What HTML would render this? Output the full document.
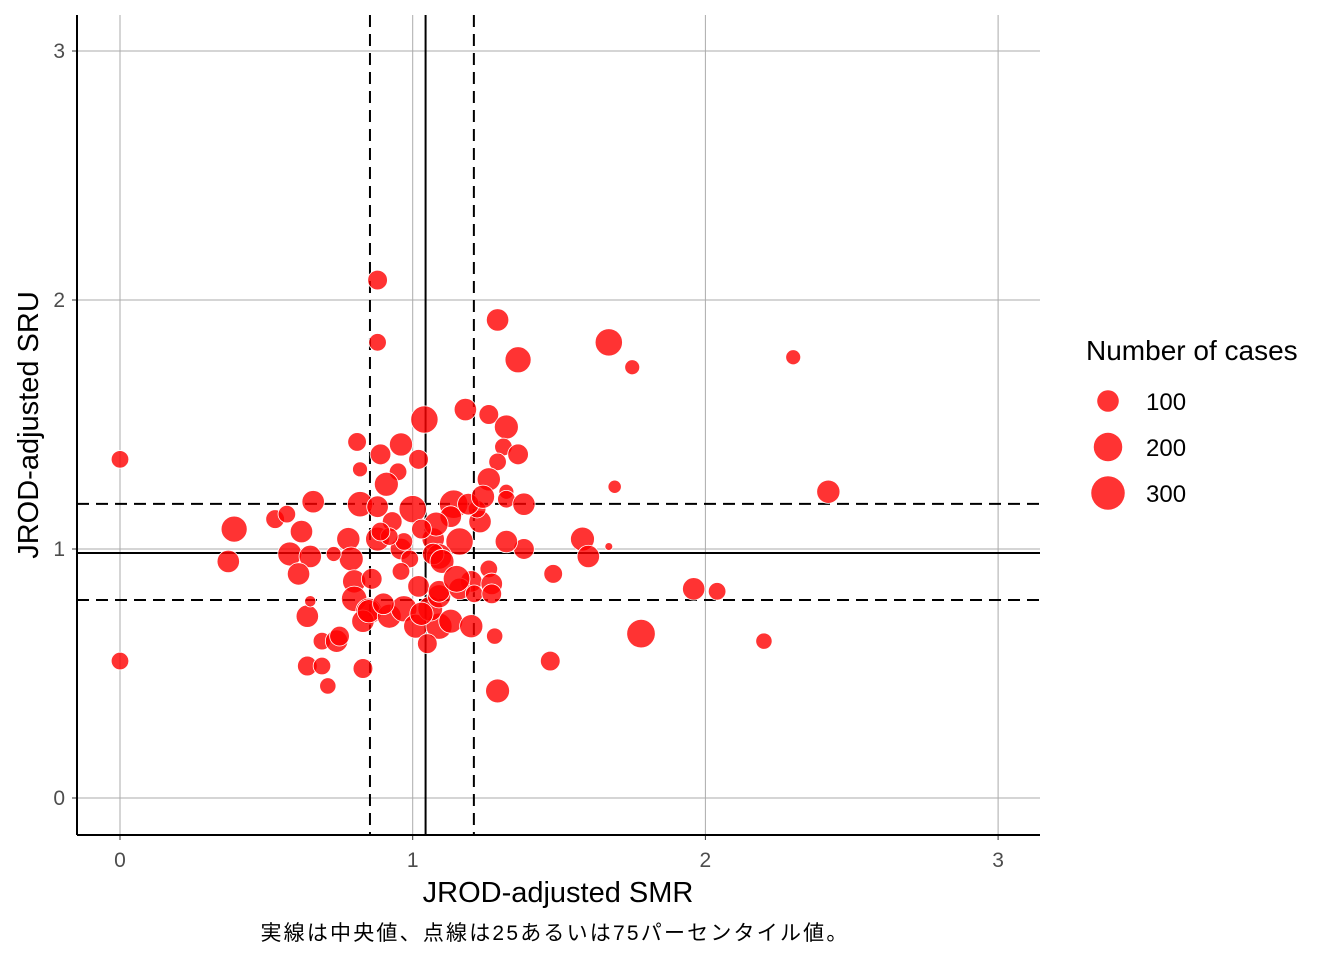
<!DOCTYPE html>
<html><head><meta charset="utf-8"><style>
body{margin:0;background:#fff;}
svg{display:block;font-family:"Liberation Sans","Noto Sans CJK JP",sans-serif;}
</style></head><body>
<svg id="chart" width="1344" height="960">
<g id="grid"></g>
<g id="refs"></g>
<g id="pts"></g>
<g id="axes"></g>
<text x="558" y="902" font-size="29" text-anchor="middle" fill="#000">JROD-adjusted SMR</text>
<text transform="translate(38,425) rotate(-90)" font-size="29" text-anchor="middle" fill="#000">JROD-adjusted SRU</text>
<text x="555" y="940" font-size="21" letter-spacing="2.2" text-anchor="middle" fill="#000">実線は中央値、点線は25あるいは75パーセンタイル値。</text>
<g>
<text x="1086" y="360" font-size="28" fill="#000">Number of cases</text>
<g id="leg"></g>
</g>
</svg>
<script>
const xTicks=[0,1,2,3];
const yTicks=[0,1,2,3];
const medianX=1.044, q1X=0.854, q3X=1.209;
const medianY=0.984, q1Y=0.795, q3Y=1.181;
const legendValues=[100,200,300];
const smr=[0,0,0.88,0.88,1.29,1.67,1.36,1.75,2.30,2.42,1.69,1.67,1.58,1.60,1.48,1.96,2.04,1.78,2.20,1.47,1.29,1.28,
1.04,1.18,1.26,1.32,1.31,1.36,1.29,1.26,1.32,1.32,1.38,1.38,1.32,0.81,0.82,0.96,1.02,0.89,0.95,0.91,1.00,0.82,0.88,0.78,0.88,0.79,0.80,0.80,0.85,0.83,0.85,0.92,0.97,1.01,1.09,1.06,1.13,1.20,1.20,1.16,1.14,1.13,1.07,1.09,1.07,1.09,1.02,1.03,1.09,1.16,1.21,1.26,1.27,1.27,1.23,1.22,1.19,1.24,1.08,0.96,0.93,0.97,0.92,0.89,1.03,0.99,0.96,
0.39,0.37,0.53,0.57,0.66,0.62,0.58,0.65,0.61,0.73,0.64,0.65,0.64,0.69,0.71,0.69,0.74,0.75,0.83,1.05,1.10,1.15,0.90,0.86];
const sru=[1.36,0.55,2.08,1.83,1.92,1.83,1.76,1.73,1.77,1.23,1.25,1.01,1.04,0.97,0.90,0.84,0.83,0.66,0.63,0.55,0.43,0.65,
1.52,1.56,1.54,1.49,1.41,1.38,1.35,1.28,1.23,1.20,1.18,1.00,1.03,1.43,1.32,1.42,1.36,1.38,1.31,1.26,1.16,1.18,1.17,1.04,1.04,0.96,0.87,0.80,0.75,0.71,0.75,0.73,0.76,0.69,0.69,0.76,0.71,0.69,0.87,1.03,1.18,1.13,1.04,0.97,0.98,0.81,0.85,0.74,0.83,0.84,0.82,0.92,0.86,0.82,1.11,1.16,1.18,1.21,1.10,1.00,1.11,1.03,1.05,1.07,1.08,0.96,0.91,
1.08,0.95,1.12,1.14,1.19,1.07,0.98,0.97,0.90,0.98,0.73,0.79,0.53,0.53,0.45,0.63,0.63,0.65,0.52,0.62,0.95,0.88,0.78,0.88];
const cases=[60,60,80,60,110,180,160,40,40,120,30,8,130,110,70,110,60,200,50,80,130,50,
180,110,80,130,60,90,60,120,40,60,110,90,110,70,40,120,80,90,60,130,180,150,100,120,130,130,120,150,160,110,120,130,160,130,160,140,130,120,100,180,200,100,110,150,100,120,100,120,100,100,60,60,100,80,110,60,100,120,130,100,80,60,60,70,80,60,60,
160,110,70,60,110,110,130,110,110,40,110,20,80,60,50,60,110,80,80,80,130,170,100,90];
const NS='http://www.w3.org/2000/svg';
const X0=120,PX=292.7,Y0=798,PY=249;
const L=77,R=1040,T=15,B=835;
function sx(v){return X0+v*PX;}
function sy(v){return Y0-v*PY;}
function rad(n){return 10.8*Math.pow(n/100,0.4);}
function mk(tag,attrs,parent){const e=document.createElementNS(NS,tag);for(const k in attrs)e.setAttribute(k,attrs[k]);parent.appendChild(e);return e;}
const grid=document.getElementById('grid'),refs=document.getElementById('refs'),pts=document.getElementById('pts'),axes=document.getElementById('axes'),leg=document.getElementById('leg');
xTicks.forEach(t=>{
  const g=mk('line',{x1:sx(t),x2:sx(t),y1:T,y2:B,stroke:'#ababab','stroke-width':1},grid);
  
  
  const tk=mk('line',{x1:sx(t),x2:sx(t),y1:B,y2:B+5,stroke:'#333','stroke-width':1},axes);
  
  
  const tl=mk('text',{x:sx(t),y:B+32,'font-size':21,'text-anchor':'middle',fill:'#4d4d4d'},axes);
  tl.textContent=t;
  
  
});
yTicks.forEach(t=>{
  const g=mk('line',{x1:L,x2:R,y1:sy(t),y2:sy(t),stroke:'#ababab','stroke-width':1},grid);
  
  
  const tk=mk('line',{x1:L-5,x2:L,y1:sy(t),y2:sy(t),stroke:'#333','stroke-width':1},axes);
  
  
  const tl=mk('text',{x:L-12,y:sy(t)+7,'font-size':21,'text-anchor':'end',fill:'#4d4d4d'},axes);
  tl.textContent=t;
  
  
});
[[medianX,null,'median-x-line'],[q1X,'12,7','q1-x-line'],[q3X,'12,7','q3-x-line']].forEach(([v,d,n])=>{
  const l=mk('line',{x1:sx(v),x2:sx(v),y1:T,y2:B,stroke:'#000','stroke-width':2},refs);
  if(d)l.setAttribute('stroke-dasharray',d);
  
  
});
[[medianY,null,'median-y-line'],[q1Y,'12,7','q1-y-line'],[q3Y,'12,7','q3-y-line']].forEach(([v,d,n])=>{
  const l=mk('line',{x1:L,x2:R,y1:sy(v),y2:sy(v),stroke:'#000','stroke-width':2},refs);
  if(d)l.setAttribute('stroke-dasharray',d);
  
  
});
smr.forEach((v,i)=>{
  const c=mk('circle',{cx:sx(v),cy:sy(sru[i]),r:rad(cases[i]),fill:'rgba(255,0,0,0.8)',stroke:'#fff','stroke-width':0.8},pts);
  
  
});
const al=mk('line',{x1:L,x2:L,y1:T,y2:B,stroke:'#000','stroke-width':2},axes);


const bl=mk('line',{x1:L,x2:R,y1:B,y2:B,stroke:'#000','stroke-width':2},axes);


legendValues.forEach((v,i)=>{
  const y=401+i*46;
  const c=mk('circle',{cx:1108,cy:y,r:rad(v),fill:'rgba(255,0,0,0.8)'},leg);
  
  
  const t=mk('text',{x:1146,y:y+9,'font-size':24,fill:'#000'},leg);
  t.textContent=v;
  
  
});
</script>
</body></html>
